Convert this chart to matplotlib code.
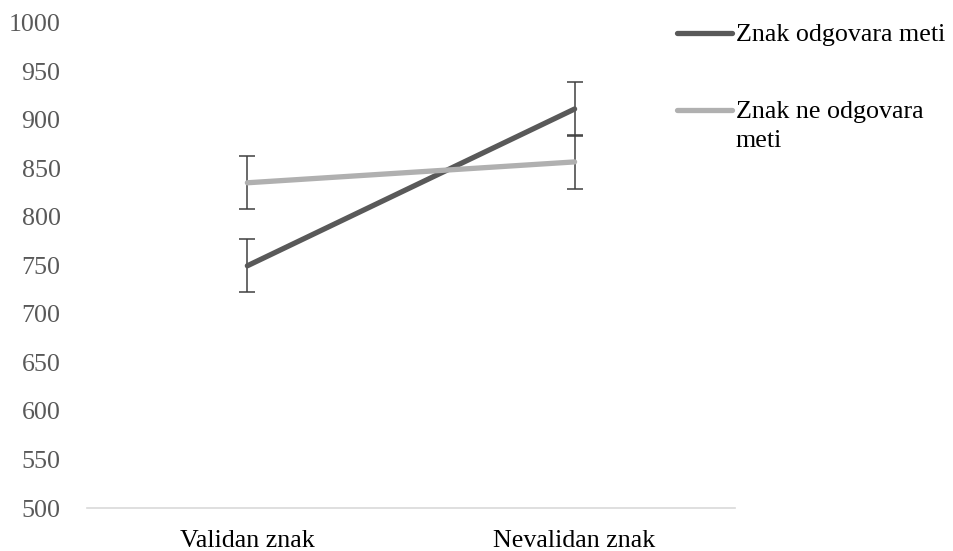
import matplotlib.pyplot as plt
from matplotlib.lines import Line2D

plt.rcParams['font.family'] = ['Liberation Serif', 'DejaVu Serif']

categories = ['Validan znak', 'Nevalidan znak']
series_names = ['Znak odgovara meti', 'Znak ne odgovara\nmeti']
match_values = [749.5, 911]
match_errors = [27.5, 27.5]
nomatch_values = [835, 856.5]
nomatch_errors = [27.5, 27.5]
y_ticks = list(range(500, 1001, 50))

colors = ['#595959', '#b0b0b0']

fig = plt.figure(figsize=(9.54, 5.51), dpi=100)
ax = fig.add_axes([0.0912, 0.078, 0.6792, 0.881])

x = list(range(len(categories)))
for vals, errs, c in [(match_values, match_errors, colors[0]),
                      (nomatch_values, nomatch_errors, colors[1])]:
    ax.plot(x, vals, color=c, lw=3.8, solid_capstyle='round', zorder=3)
    ax.errorbar(x, vals, yerr=errs, fmt='none', ecolor='#404040',
                elinewidth=1.1, capsize=6, capthick=1.1, zorder=2)

ax.set_xlim(-0.49, 1.49)
ax.set_ylim(500, 1000)
ax.set_yticks(y_ticks)
ax.set_xticks(x)
ax.set_xticklabels(categories, fontsize=18.7, color='black')
ax.tick_params(axis='y', labelsize=18.7, labelcolor='#595959', length=0, pad=19)
ax.tick_params(axis='x', length=0, pad=16)
for s in ['top', 'right', 'left']:
    ax.spines[s].set_visible(False)
ax.spines['bottom'].set_color('#d9d9d9')
ax.spines['bottom'].set_linewidth(1.2)

# legend drawn by hand so the handle sits at the first text line
W, H = 954, 551
legend_rows = [33, 110]
for name, c, yy in zip(series_names, colors, legend_rows):
    fig.add_artist(Line2D([677 / W, 732 / W], [1 - yy / H, 1 - yy / H],
                          color=c, lw=3.8, solid_capstyle='round',
                          transform=fig.transFigure))
    fig.text(736 / W, 1 - (yy - 9) / H, name, fontsize=18.7, va='top',
             ha='left', color='black', linespacing=1.42)

fig.savefig('out.png', dpi=100)
